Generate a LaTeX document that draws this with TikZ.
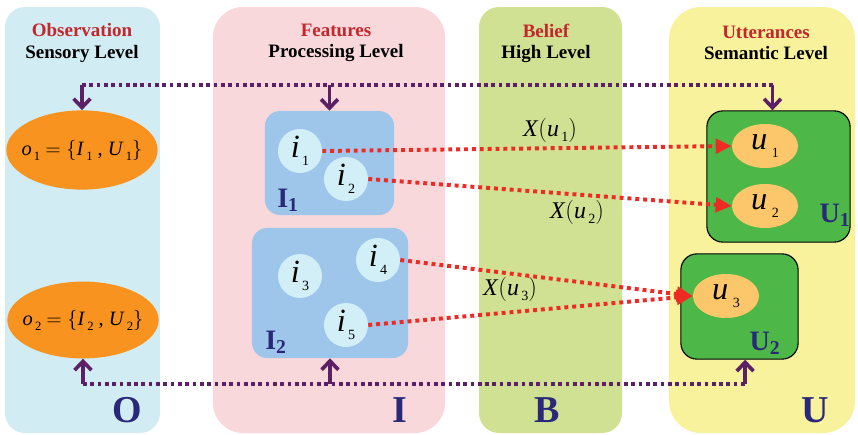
\documentclass[tikz,border=0pt]{standalone}
\usepackage{fontspec}
\setmainfont{Liberation Serif}
\usetikzlibrary{arrows.meta,positioning,shapes.geometric}
\definecolor{paneO}{HTML}{D2ECF3}
\definecolor{paneI}{HTML}{F9D8DB}
\definecolor{paneB}{HTML}{D1E194}
\definecolor{paneU}{HTML}{F8F29C}
\definecolor{obsorange}{HTML}{F7931E}
\definecolor{boxblue}{HTML}{9DC6EA}
\definecolor{featc}{HTML}{D2EEF6}
\definecolor{ugreen}{HTML}{4DB748}
\definecolor{uorange}{HTML}{FCC76B}
\definecolor{navy}{HTML}{2A2878}
\definecolor{ttlred}{HTML}{C1272D}
\definecolor{plum}{HTML}{5C2067}
\definecolor{linkred}{HTML}{EE2A24}
\newcommand\low[2][9]{\raisebox{-0.5ex}{\fontsize{#1}{#1}\selectfont\upshape\,#2}}
\begin{document}
\begin{tikzpicture}[x=0.025cm, y=-0.025cm,
  ttl/.style={font=\fontsize{13.5}{15}\selectfont\bfseries, align=center},
  big/.style={font=\fontsize{27}{27}\selectfont\bfseries, text=navy},
  obs/.style={ellipse, fill=obsorange, minimum width=3.58cm, minimum height=1.98cm, inner xsep=-0.17cm, inner ysep=0pt, font=\fontsize{14.5}{14.5}\selectfont},
  grp/.style={fill=boxblue, rounded corners=0.38cm, inner sep=0pt},
  feat/.style={circle, fill=featc, minimum size=1.1cm, inner sep=0pt, font=\fontsize{23}{23}\selectfont\itshape},
  ugrp/.style={draw=black, line width=0.8pt, fill=ugreen, rounded corners=0.4cm, inner sep=0pt},
  utt/.style={ellipse, fill=uorange, minimum width=1.65cm, minimum height=1.1cm, inner sep=0pt, font=\fontsize{23}{23}\selectfont\itshape},
  tag/.style={font=\fontsize{20}{20}\selectfont\bfseries, text=navy, inner sep=0pt},
  xlab/.style={font=\fontsize{17}{17}\selectfont},
  link/.style={draw=linkred, line width=2.8pt, dash pattern=on 2.8pt off 2.8pt, -{Triangle[length=0.4cm,width=0.36cm]}},
  bus/.style={draw=plum, line width=2.6pt, dash pattern=on 2.6pt off 2.6pt},
  tap/.style={draw=plum, line width=2.6pt, -{Straight Barb[length=0.22cm,width=0.42cm]}}]
\useasboundingbox (0,0) rectangle (858,435);
% level panels
\fill[paneO, rounded corners=0.5cm] (5,7) rectangle (160,433);
\fill[paneI, rounded corners=0.75cm] (213,7) rectangle (445,433);
\fill[paneB, rounded corners=0.5cm] (479,7) rectangle (622,433);
\fill[paneU, rounded corners=0.8cm] (669,7) rectangle (855,433);
\node[ttl] (hO) at (82,43) {{\color{ttlred}Observation}\\Sensory Level};
\node[ttl] (hI) at (336,43) {{\color{ttlred}Features}\\Processing Level};
\node[ttl] (hB) at (546,43) {{\color{ttlred}Belief}\\High Level};
\node[ttl] (hU) at (766,43) {{\color{ttlred}Utterances}\\Semantic Level};
\node[big] (bO) at (127,410) {O};
\node[big] (bI) at (400,410) {I};
\node[big] (bB) at (547,410) {B};
\node[big] (bU) at (815,410) {U};
% observations
\node[obs] (o1) at (82,150) {\textit{o}\low{1} $=\Big\{$\textit{I}\low{1} , \textit{U}\low{1}$\Big\}$};
\node[obs, minimum height=1.92cm] (o2) at (83,320) {\textit{o}\low{2} $=\Big\{$\textit{I}\low{2} , \textit{U}\low{2}$\Big\}$};
% features
\node[grp, minimum width=3.23cm, minimum height=2.6cm] (I1) at (329.5,163) {};
\node[grp, minimum width=3.9cm, minimum height=3.25cm] (I2) at (330,293) {};
\node[feat] (i1) at (300,151) {i\low[10]{1}};
\node[feat] (i2) at (346,179) {i\low[10]{2}};
\node[feat] (i3) at (300,276) {i\low[10]{3}};
\node[feat] (i4) at (378,260) {i\low[10]{4}};
\node[feat] (i5) at (346,325) {i\low[10]{5}};
\node[tag] (tI1) at (288,200) {I\textsubscript{1}};
\node[tag] (tI2) at (276,342) {I\textsubscript{2}};
% utterances
\node[ugrp, minimum width=3.58cm, minimum height=3.28cm] (U1) at (778.5,176.5) {};
\node[ugrp, minimum width=2.93cm, minimum height=2.63cm] (U2) at (739.5,306.5) {};
\node[utt] (u1) at (765,146) {u\low[10]{\,1}};
\node[utt] (u2) at (765,206) {u\low[10]{\,2}};
\node[utt] (u3) at (726,296) {u\low[10]{\,3}};
\node[tag] (tU1) at (835,215) {U\textsubscript{1}};
\node[tag] (tU2) at (765,343) {U\textsubscript{2}};
% belief links
\draw[link] (i1.east) -- (u1.west);
\draw[link] (i2.east) -- (u2.west);
\draw[link] (i4.east) -- (u3.west);
\draw[link] (i5.east) -- (u3.west);
\node[xlab] (x1) at (550,130) {\textit{X}$\Big($\textit{u}\low[10]{1}$\Big)$};
\node[xlab] (x2) at (577,212) {\textit{X}$\Big($\textit{u}\low[10]{2}$\Big)$};
\node[xlab] (x3) at (510,289) {\textit{X}$\Big($\textit{u}\low[10]{3}$\Big)$};
% top and bottom buses
\coordinate (busT) at (0,85);
\coordinate (busB) at (0,384);
\coordinate (tO) at (o1.north |- busT);
\coordinate (tI) at (I1.north |- busT);
\coordinate (tU) at ([xshift=-0.15cm]U1.north |- busT);
\coordinate (bO) at (o2.south |- busB);
\coordinate (bI) at (I2.south |- busB);
\coordinate (bU) at ([xshift=0.14cm]U2.south |- busB);
\draw[bus] (tO) -- (tU);
\draw[bus] (bO) -- (bU);
\draw[tap] (tO) -- (o1.north);
\draw[tap] (tI) -- (I1.north);
\draw[tap] (tU) -- ([xshift=-0.15cm]U1.north);
\draw[tap] (bO) -- (o2.south);
\draw[tap] (bI) -- (I2.south);
\draw[tap] (bU) -- ([xshift=0.14cm]U2.south);
\end{tikzpicture}
\end{document}
